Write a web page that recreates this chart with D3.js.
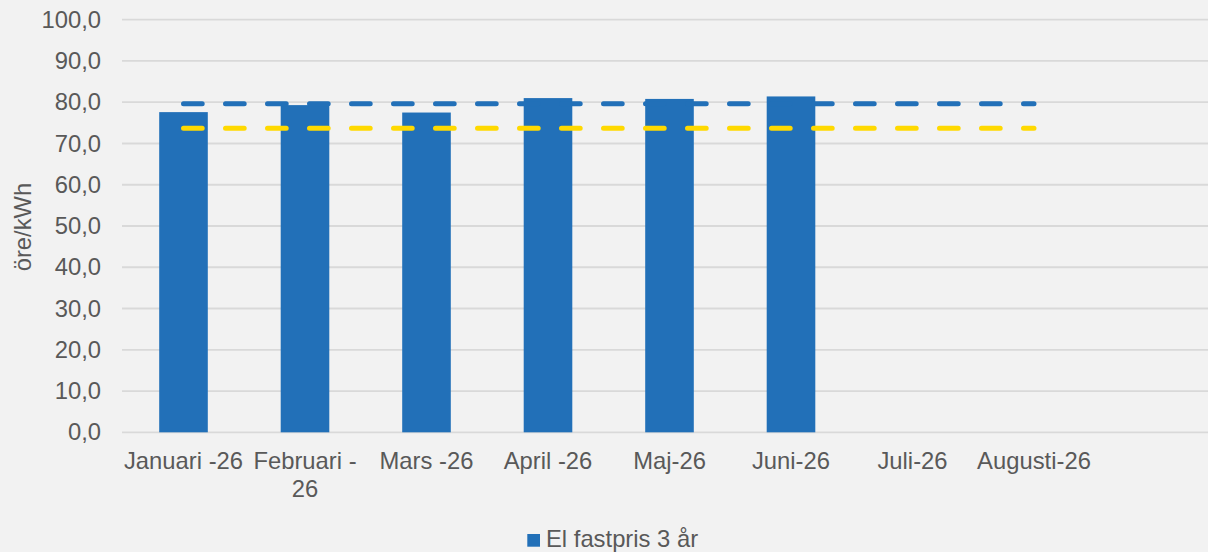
<!DOCTYPE html>
<html>
<head>
<meta charset="utf-8">
<script src="https://d3js.org/d3.v7.min.js"></script>
<style>
  body { margin: 0; background: #f2f2f2; }
  svg { display: block; font-family: "Liberation Sans", Arial, sans-serif; }
  .tick text { fill: #595959; font-size: 23.8px; }
</style>
</head>
<body>
<script>
// data
var months = ["Januari -26", "Februari -26", "Mars -26", "April -26", "Maj-26", "Juni-26", "Juli-26", "Augusti-26", ""];
var fastpris = [77.6, 79.3, 77.5, 81.0, 80.8, 81.4];
var blueLine = [79.6, 79.6, 79.6, 79.6, 79.6, 79.6, 79.6, 79.6];
var yellowLine = [73.7, 73.7, 73.7, 73.7, 73.7, 73.7, 73.7, 73.7];
var yTicks = [0, 10, 20, 30, 40, 50, 60, 70, 80, 90, 100];

var w = 1208, h = 552;
var blue = "#2270b8", yellow = "#ffd900";
var fs = "23.8px";

var svg = d3.select("body").append("svg")
  .attr("width", w)
  .attr("height", h);

svg.append("rect").attr("width", w).attr("height", h).attr("fill", "#f2f2f2");

var x = d3.scaleBand()
  .domain(months.map(function(d, i) { return i; }))
  .range([122.75, 122.75 + 9 * 121.5])
  .paddingInner(0.6)
  .paddingOuter(0.3);

var y = d3.scaleLinear()
  .domain([0, 100])
  .range([432.3, 19.7]);

// gridlines
svg.append("g")
  .selectAll("line")
  .data(yTicks)
  .enter()
  .append("line")
  .attr("x1", 122)
  .attr("x2", w)
  .attr("y1", function(d) { return y(d); })
  .attr("y2", function(d) { return y(d); })
  .attr("stroke", "#d9d9d9")
  .attr("stroke-width", 1.8);

// y axis labels
var yAxis = svg.append("g")
  .attr("transform", "translate(101,0)")
  .call(d3.axisLeft(y).tickValues(yTicks).tickSize(0).tickPadding(0)
    .tickFormat(function(d) { return d3.format(".1f")(d).replace(".", ","); }));
yAxis.select(".domain").remove();

svg.append("text")
  .attr("transform", "translate(31,227) rotate(-90)")
  .attr("text-anchor", "middle")
  .attr("fill", "#595959")
  .style("font-size", fs)
  .text("öre/kWh");

// bars
svg.append("g")
  .selectAll("rect")
  .data(fastpris)
  .enter()
  .append("rect")
  .attr("x", function(d, i) { return x(i); })
  .attr("width", x.bandwidth())
  .attr("y", function(d) { return y(d); })
  .attr("height", function(d) { return y(0) - y(d); })
  .attr("fill", blue);

// dashed lines
var line = d3.line()
  .x(function(d, i) { return x(i) + x.bandwidth() / 2; })
  .y(function(d) { return y(d); });

[[blueLine, blue], [yellowLine, yellow]].forEach(function(s) {
  svg.append("path")
    .attr("d", line(s[0]))
    .attr("fill", "none")
    .attr("stroke", s[1])
    .attr("stroke-width", 5)
    .attr("stroke-linecap", "round")
    .attr("stroke-dasharray", "18.7,23.3");
});

// x labels
var step = x.step();
var xl = svg.append("g");
months.forEach(function(m, i) {
  var t = xl.append("text")
    .attr("x", x(i) + x.bandwidth() / 2)
    .attr("y", 469.3)
    .attr("text-anchor", "middle")
    .attr("fill", "#595959")
    .style("font-size", fs)
    .text(m);
  if (t.node().getComputedTextLength() > step) {
    var k = m.lastIndexOf(" ");
    t.text(null);
    t.append("tspan").attr("x", x(i) + x.bandwidth() / 2).text(m.slice(0, k + 2));
    t.append("tspan").attr("x", x(i) + x.bandwidth() / 2).attr("dy", 27.4).text(m.slice(k + 2));
  }
});

// legend
svg.append("rect")
  .attr("x", 527.3).attr("y", 534)
  .attr("width", 12.7).attr("height", 12.7)
  .attr("fill", blue);
svg.append("text")
  .attr("x", 546).attr("y", 547)
  .attr("fill", "#595959")
  .style("font-size", fs)
  .text("El fastpris 3 år");
</script>
</body>
</html>
